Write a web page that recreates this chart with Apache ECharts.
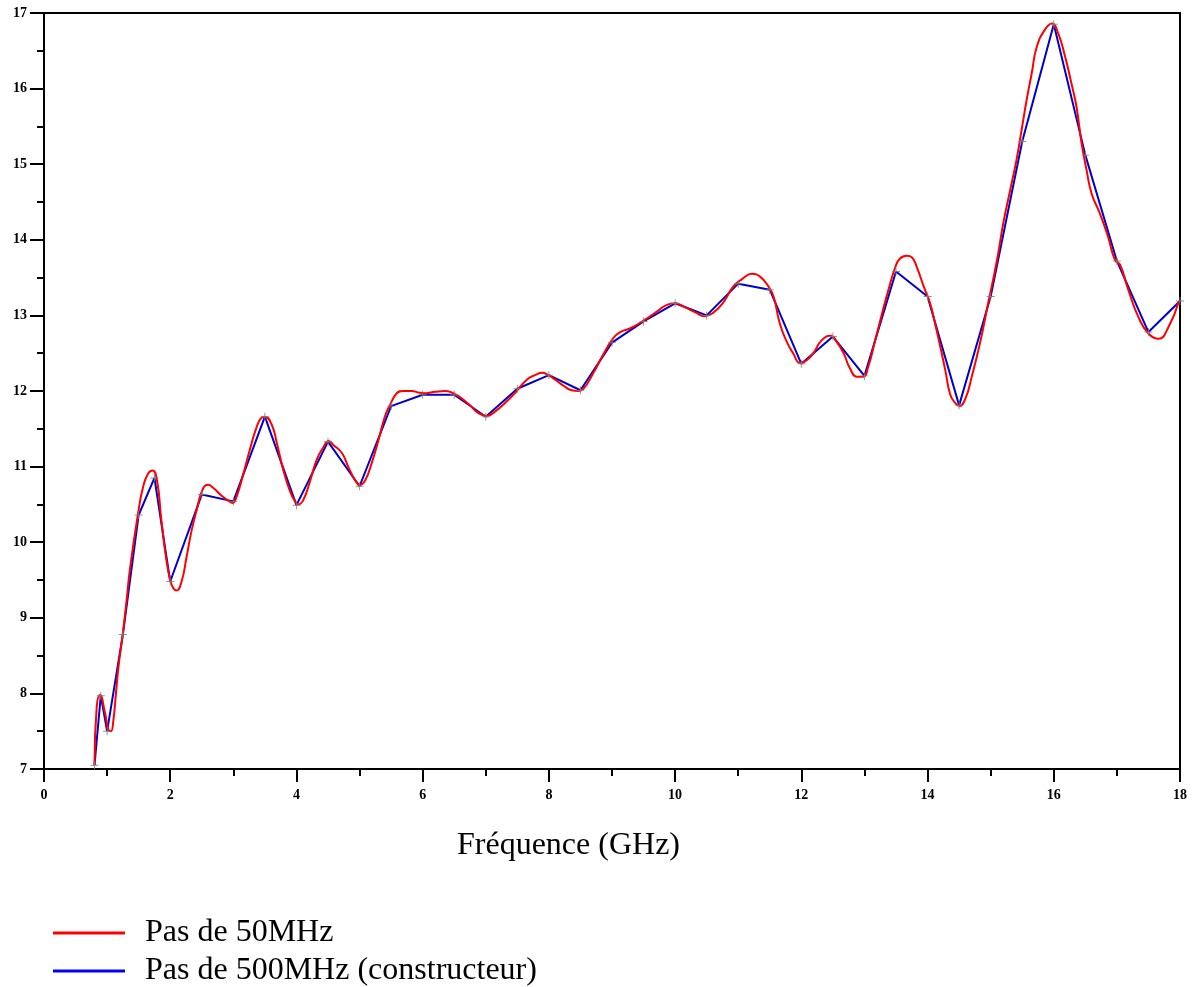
<!DOCTYPE html>
<html>
<head>
<meta charset="utf-8">
<script src="https://cdn.jsdelivr.net/npm/echarts@6/dist/echarts.min.js"></script>
<style>
html,body{margin:0;padding:0;background:#fff;}
#chart{width:1192px;height:987px;}
</style>
</head>
<body>
<div id="chart"></div>
<script>
// Pas de 50MHz
const redFreq = [0.80,0.835,0.887,0.967,1.02,1.06,1.10,1.14,1.18,1.25,1.31,1.36,1.49,1.57,1.65,1.72,1.79,1.86,1.94,2.00,2.05,2.10,2.18,2.26,2.34,2.42,2.52,2.60,2.68,2.82,2.92,2.99,3.05,3.16,3.26,3.36,3.45,3.50,3.61,3.69,3.79,3.90,3.98,4.03,4.11,4.22,4.32,4.43,4.51,4.58,4.72,4.82,4.93,5.01,5.09,5.19,5.30,5.40,5.48,5.59,5.69,5.83,5.93,6.04,6.20,6.35,6.46,6.59,6.75,6.88,7.02,7.15,7.33,7.49,7.65,7.78,7.89,7.99,8.10,8.23,8.36,8.47,8.55,8.70,8.86,9.02,9.13,9.29,9.50,9.71,9.87,10.00,10.13,10.32,10.47,10.61,10.77,10.92,11.06,11.22,11.35,11.48,11.56,11.66,11.77,11.87,11.98,12.09,12.19,12.32,12.46,12.56,12.67,12.77,12.88,12.98,13.06,13.17,13.28,13.38,13.49,13.56,13.67,13.75,13.83,13.94,14.04,14.12,14.20,14.28,14.36,14.44,14.50,14.60,14.70,14.83,14.96,15.10,15.20,15.31,15.41,15.49,15.57,15.65,15.73,15.86,15.97,16.07,16.18,16.29,16.36,16.44,16.52,16.60,16.73,16.86,16.97,17.05,17.18,17.34,17.50,17.66,17.82,17.98];
const redGain = [7.05,7.82,7.98,7.74,7.52,7.50,7.65,8.00,8.35,8.80,9.24,9.63,10.38,10.73,10.91,10.95,10.82,10.29,9.76,9.50,9.39,9.36,9.48,9.81,10.16,10.43,10.71,10.76,10.72,10.61,10.55,10.52,10.60,10.91,11.22,11.50,11.65,11.66,11.55,11.31,10.96,10.67,10.54,10.50,10.56,10.82,11.09,11.26,11.34,11.29,11.18,11.00,10.82,10.76,10.82,11.04,11.35,11.66,11.81,11.97,12.00,12.00,11.98,11.97,11.99,12.00,11.98,11.92,11.81,11.71,11.67,11.73,11.86,12.00,12.15,12.21,12.24,12.21,12.15,12.07,12.01,12.00,12.03,12.23,12.48,12.70,12.78,12.83,12.93,13.05,13.14,13.16,13.12,13.04,12.99,13.04,13.18,13.38,13.48,13.55,13.51,13.38,13.25,12.89,12.65,12.50,12.37,12.41,12.50,12.67,12.73,12.65,12.50,12.30,12.19,12.19,12.32,12.67,13.03,13.34,13.64,13.75,13.79,13.77,13.64,13.38,13.16,12.89,12.59,12.28,11.95,11.84,11.80,11.90,12.19,12.63,13.16,13.73,14.22,14.66,15.06,15.45,15.85,16.20,16.55,16.78,16.86,16.73,16.42,16.03,15.76,15.28,14.92,14.61,14.35,14.04,13.73,13.67,13.34,12.98,12.76,12.69,12.85,13.18];

// Pas de 500MHz (constructeur)
const blueFreq = [0.8,0.9,1.0,1.25,1.5,1.75,2.0,2.5,3.0,3.5,4.0,4.5,5.0,5.5,6.0,6.5,7.0,7.5,8.0,8.5,9.0,9.5,10.0,10.5,11.0,11.5,12.0,12.5,13.0,13.5,14.0,14.5,15.0,15.5,16.0,16.5,17.0,17.5,18.0];
const blueGain = [7.05,7.97,7.50,8.78,10.36,10.85,9.48,10.63,10.54,11.66,10.49,11.33,10.74,11.80,11.95,11.95,11.66,12.03,12.21,12.01,12.64,12.92,13.16,13.00,13.42,13.34,12.36,12.72,12.20,13.58,13.25,11.81,13.25,15.30,16.85,15.12,13.72,12.78,13.19];

const xTicks = {min: 0, max: 18, interval: 2};
const yTicks = {min: 7, max: 17, interval: 1};
const xName = 'Fréquence (GHz)';
const names = ['Pas de 50MHz', 'Pas de 500MHz (constructeur)'];

const zip = (a, b) => a.map((v, i) => [v, b[i]]);

const chart = echarts.init(document.getElementById('chart'), null, {renderer: 'canvas'});
const labelFont = {fontFamily: '"Liberation Serif", "Times New Roman", serif', fontWeight: 'bold', fontSize: 14, color: '#000'};

chart.setOption({
  animation: false,
  backgroundColor: '#fff',
  grid: {left: 44, right: 12, top: 13, bottom: 218, show: true, borderColor: '#000', borderWidth: 2, backgroundColor: 'transparent'},
  xAxis: {
    type: 'value', min: xTicks.min, max: xTicks.max, interval: xTicks.interval,
    axisLine: {show: true, onZero: false, lineStyle: {color: '#000', width: 2}},
    axisTick: {show: true, length: 13, lineStyle: {color: '#000', width: 2}},
    minorTick: {show: true, splitNumber: 2, length: 7, lineStyle: {color: '#000', width: 2}},
    splitLine: {show: false},
    axisLabel: Object.assign({margin: 19}, labelFont)
  },
  yAxis: {
    type: 'value', min: yTicks.min, max: yTicks.max, interval: yTicks.interval,
    axisLine: {show: true, onZero: false, lineStyle: {color: '#000', width: 2}},
    axisTick: {show: true, length: 14, lineStyle: {color: '#000', width: 2}},
    minorTick: {show: true, splitNumber: 2, length: 7, lineStyle: {color: '#000', width: 2}},
    splitLine: {show: false},
    axisLabel: Object.assign({margin: 17}, labelFont)
  },
  legend: {
    orient: 'vertical', left: 53, top: 917, height: 200, padding: 0,
    itemWidth: 72, itemHeight: 3, itemGap: 6, icon: 'rect',
    textStyle: {fontFamily: '"Liberation Serif", "Times New Roman", serif', fontSize: 32, lineHeight: 32, color: '#000', padding: [0, 0, 0, 15]},
    data: [
      {name: names[0], itemStyle: {color: '#ff0000'}},
      {name: names[1], itemStyle: {color: '#0000ff'}}
    ]
  },
  graphic: [{
    type: 'text', x: 457, y: 846,
    style: {text: xName, font: '32px "Liberation Serif", "Times New Roman", serif', fill: '#000', textAlign: 'left', textVerticalAlign: 'middle'}
  }],
  series: [
    {
      name: names[1], type: 'line', data: zip(blueFreq, blueGain),
      showSymbol: false, symbol: 'none', z: 2,
      lineStyle: {color: '#0000cc', width: 2},
      itemStyle: {color: '#0000ff'}
    },
    {
      name: names[0], type: 'line', data: zip(redFreq, redGain),
      showSymbol: false, symbol: 'none', smooth: 0.5, z: 3,
      lineStyle: {color: '#ff0000', width: 2},
      itemStyle: {color: '#ff0000'}
    },
    {
      name: 'points', type: 'scatter', data: zip(blueFreq, blueGain), z: 4,
      symbol: 'path://M0,4.4H10V5.6H0Z M4.4,0H5.6V10H4.4Z', symbolSize: 8,
      itemStyle: {color: '#808080', opacity: 0.85}, silent: true
    }
  ]
});
</script>
</body>
</html>
